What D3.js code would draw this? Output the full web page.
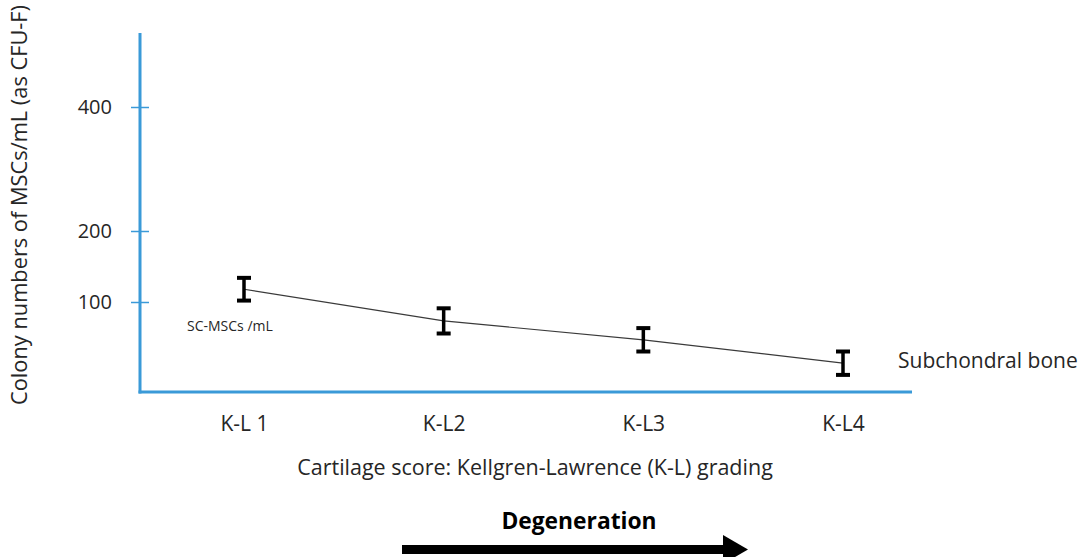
<!DOCTYPE html>
<html>
<head>
<meta charset="utf-8">
<script src="https://cdn.jsdelivr.net/npm/d3@7"></script>
<style>
  body { margin: 0; background: #fff; }
  svg { display: block; font-family: "Open Sans", sans-serif; }
</style>
</head>
<body>
<div id="chart"></div>
<script>
// data
const grades = ["K-L 1", "K-L2", "K-L3", "K-L4"];
const means = [118, 79, 58, 32];
const errors = [16, 14, 13, 13];
const yTicks = [100, 200, 400];

const W = 1084, H = 557;
const axisColor = "#3a9ad8";
const textColor = "#262626";

const svg = d3.select("#chart")
    .append("svg")
    .attr("width", W)
    .attr("height", H);

// the y axis in the picture is not evenly spaced, so piecewise
const y = d3.scaleLinear()
    .domain([0, 100, 200, 400])
    .range([392, 302, 231, 107]);

const x = d3.scalePoint()
    .domain(grades)
    .range([244, 843]);

const axisX = 140, axisTop = 33, axisRight = 912;

// y axis
const yAxis = d3.axisLeft(y)
    .tickValues(yTicks)
    .tickSizeInner(9)
    .tickSizeOuter(0)
    .tickPadding(19);

const gy = svg.append("g")
    .attr("transform", "translate(" + axisX + ",0)")
    .call(yAxis);

gy.select(".domain").remove();
gy.selectAll(".tick line")
    .attr("x1", -9)
    .attr("x2", 9)
    .attr("stroke", axisColor)
    .attr("stroke-width", 1.5);
gy.selectAll(".tick text")
    .attr("fill", textColor)
    .style("font-size", "20px")
    .style("font-family", "Open Sans");

svg.append("line")
    .attr("x1", axisX).attr("x2", axisX)
    .attr("y1", axisTop).attr("y2", y(0) + 1.5)
    .attr("stroke", axisColor)
    .attr("stroke-width", 3);

// x axis
svg.append("line")
    .attr("x1", axisX - 1.5).attr("x2", axisRight)
    .attr("y1", y(0)).attr("y2", y(0))
    .attr("stroke", axisColor)
    .attr("stroke-width", 3);

const xAxis = d3.axisBottom(x)
    .tickSize(0)
    .tickPadding(24);

const gx = svg.append("g")
    .attr("transform", "translate(0," + y(0) + ")")
    .call(xAxis);
gx.select(".domain").remove();
gx.selectAll(".tick text")
    .attr("fill", textColor)
    .style("font-size", "21px")
    .style("font-family", "Open Sans");

// connecting line
const points = grades.map((g, i) => ({ g: g, m: means[i], e: errors[i] }));

svg.append("path")
    .datum(points)
    .attr("fill", "none")
    .attr("stroke", "#3a3a3a")
    .attr("stroke-width", 1.2)
    .attr("d", d3.line().x(d => x(d.g)).y(d => y(d.m)));

// error bars
const bars = svg.append("g").selectAll("g")
    .data(points)
    .join("g");

bars.append("line")
    .attr("x1", d => x(d.g)).attr("x2", d => x(d.g))
    .attr("y1", d => y(d.m + d.e)).attr("y2", d => y(d.m - d.e))
    .attr("stroke", "#000")
    .attr("stroke-width", 3.5);

bars.selectAll("line.cap")
    .data(d => [d.m + d.e, d.m - d.e].map(v => ({ g: d.g, v: v })))
    .join("line")
    .attr("class", "cap")
    .attr("x1", d => x(d.g) - 7).attr("x2", d => x(d.g) + 7)
    .attr("y1", d => y(d.v)).attr("y2", d => y(d.v))
    .attr("stroke", "#000")
    .attr("stroke-width", 4);

// labels
svg.append("text")
    .attr("transform", "translate(27,205) rotate(-90)")
    .attr("text-anchor", "middle")
    .attr("fill", textColor)
    .style("font-size", "21.8px")
    .text("Colony numbers of MSCs/mL (as CFU-F)");

svg.append("text")
    .attr("x", 535).attr("y", 475)
    .attr("text-anchor", "middle")
    .attr("fill", textColor)
    .style("font-size", "21.5px")
    .text("Cartilage score: Kellgren-Lawrence (K-L) grading");

svg.append("text")
    .attr("x", 187).attr("y", 331)
    .attr("fill", textColor)
    .style("font-size", "14px")
    .text("SC-MSCs /mL");

svg.append("text")
    .attr("x", 898).attr("y", 368)
    .attr("fill", textColor)
    .style("font-size", "21px")
    .text("Subchondral bone");

svg.append("text")
    .attr("x", 579).attr("y", 529)
    .attr("text-anchor", "middle")
    .attr("fill", "#000")
    .style("font-size", "22.8px")
    .style("font-weight", "bold")
    .text("Degeneration");

// arrow
svg.append("rect")
    .attr("x", 402).attr("y", 545)
    .attr("width", 323).attr("height", 9)
    .attr("fill", "#000");
svg.append("path")
    .attr("d", "M723,535 L748,549.5 L723,564 Z")
    .attr("fill", "#000");
</script>
</body>
</html>
